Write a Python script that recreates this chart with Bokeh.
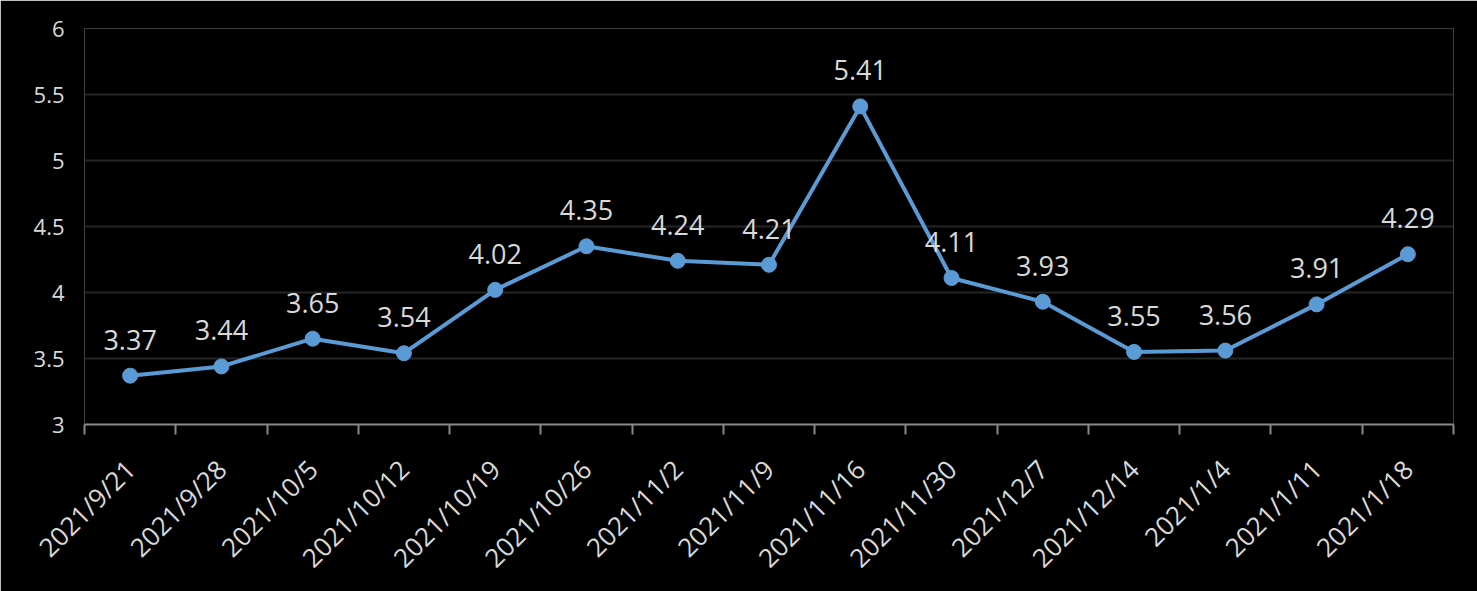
import math
from bokeh.plotting import figure
from bokeh.models import (ColumnDataSource, LabelSet, FixedTicker, Range1d,
                          NumeralTickFormatter)
from bokeh.core.properties import value
from bokeh.embed import file_html
from bokeh.resources import INLINE

dates = ["2021/9/21", "2021/9/28", "2021/10/5", "2021/10/12", "2021/10/19",
         "2021/10/26", "2021/11/2", "2021/11/9", "2021/11/16", "2021/11/30",
         "2021/12/7", "2021/12/14", "2021/1/4", "2021/1/11", "2021/1/18"]
values = [3.37, 3.44, 3.65, 3.54, 4.02, 4.35, 4.24, 4.21, 5.41, 4.11,
          3.93, 3.55, 3.56, 3.91, 4.29]
y_ticks = [3, 3.5, 4, 4.5, 5, 5.5, 6]

FONT = "Open Sans"
TEXT = "#d9d9d9"
BLUE = "#5b9bd5"

n = len(dates)
xs = [i + 0.5 for i in range(n)]
labels = [f"{v:.2f}" for v in values]
src = ColumnDataSource(dict(x=xs, y=values, label=labels))

p = figure(width=1477, height=591, output_backend="svg", toolbar_location=None,
           x_range=Range1d(0, n), y_range=Range1d(3, 6),
           background_fill_color="black", border_fill_color="black",
           outline_line_color=None,
           min_border_left=84, min_border_right=24, min_border_top=28,
           min_border_bottom=167)

p.line("x", "y", source=src, line_color=BLUE, line_width=4)
p.scatter("x", "y", source=src, size=15, fill_color=BLUE, line_color=BLUE)

ls = LabelSet(x="x", y="y", text="label", source=src, text_align="center",
              text_baseline="alphabetic", y_offset=26, text_color=TEXT,
              text_font=value(FONT), text_font_size="27px")
p.add_layout(ls)

# x axis
xa = p.xaxis[0]
xa.ticker = FixedTicker(ticks=xs, minor_ticks=list(range(n + 1)))
xa.major_label_overrides = {x: d for x, d in zip(xs, dates)}
xa.major_label_orientation = math.pi / 4
xa.major_tick_line_color = None
xa.major_tick_out = 0
xa.major_tick_in = 0
xa.minor_tick_line_color = "#898989"
xa.minor_tick_line_width = 2
xa.minor_tick_out = 10
xa.minor_tick_in = 0
xa.axis_line_color = "#898989"
xa.axis_line_width = 2
xa.major_label_text_color = TEXT
xa.major_label_text_font = FONT
xa.major_label_text_font_size = "26px"
xa.major_label_standoff = 30

# y axis
ya = p.yaxis[0]
ya.ticker = FixedTicker(ticks=y_ticks)
ya.formatter = NumeralTickFormatter(format="0.[0]")
ya.axis_line_color = None
ya.major_tick_line_color = None
ya.minor_tick_line_color = None
ya.major_label_text_color = TEXT
ya.major_label_text_font = FONT
ya.major_label_text_font_size = "22px"
ya.major_label_standoff = 14

p.xgrid.grid_line_color = None
p.ygrid.ticker = FixedTicker(ticks=y_ticks)
p.ygrid.grid_line_color = "#262626"
p.ygrid.grid_line_width = 2

open("out.html", "w").write(file_html(p, INLINE))
